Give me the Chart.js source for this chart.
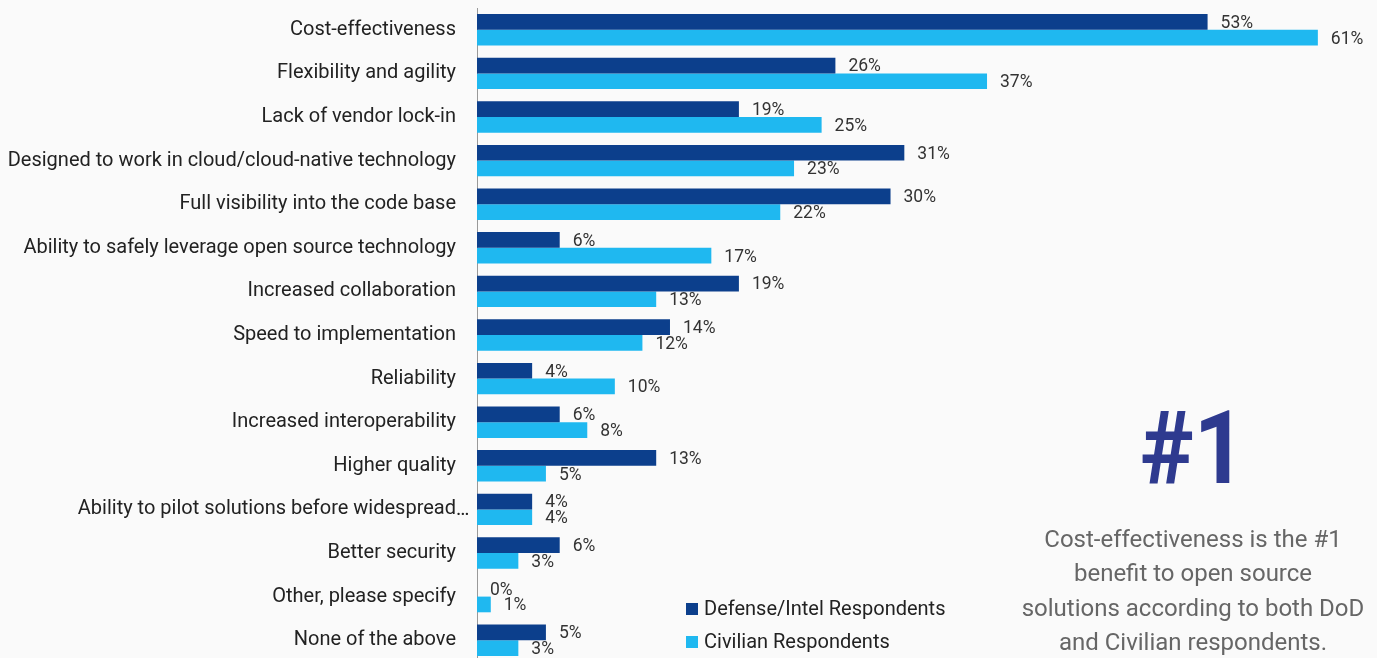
<!DOCTYPE html>
<html>
<head>
<meta charset="utf-8">
<script src="https://cdn.jsdelivr.net/npm/chart.js@4.4.1/dist/chart.umd.min.js"></script>
<style>
  html, body { margin: 0; padding: 0; background: #fafafa; overflow: hidden; }
  body { width: 1377px; height: 658px; position: relative; font-family: Roboto, sans-serif; }
  #chartBox { position: absolute; left: 0; top: 0; width: 1377px; height: 666px; }
  .legend { position: absolute; left: 686px; font-size: 20px; color: #222; line-height: 22px; }
  .legend span { display: inline-block; width: 12px; height: 12px; margin-right: 6px; vertical-align: 0px; }
  #bigNum { position: absolute; left: 1013px; width: 360px; top: 388px; text-align: center;
    font-size: 102px; font-weight: bold; color: #2e3a8f; line-height: 120px; transform: scaleX(0.89); }
  #note { position: absolute; left: 1003px; width: 380px; top: 522px; text-align: center;
    font-size: 24px; color: #666; line-height: 34.4px; }
</style>
</head>
<body>
<div id="chartBox"><canvas id="benefitChart"></canvas></div>
<div class="legend" style="top:597px"><span style="background:#0c3f8c"></span>Defense/Intel Respondents</div>
<div class="legend" style="top:630px"><span style="background:#1fb8f0"></span>Civilian Respondents</div>
<div id="bigNum">#1</div>
<div id="note">Cost-effectiveness is the #1<br>benefit to open source<br>solutions according to both DoD<br>and Civilian respondents.</div>
<script>
// ---------------- Data ----------------
// the truncated label keeps its "…" outside the label column, as in the source
const categories = [
  "Cost-effectiveness",
  "Flexibility and agility",
  "Lack of vendor lock-in",
  "Designed to work in cloud/cloud-native technology",
  "Full visibility into the code base",
  "Ability to safely leverage open source technology",
  "Increased collaboration",
  "Speed to implementation",
  "Reliability",
  "Increased interoperability",
  "Higher quality",
  "Ability to pilot solutions before widespread",
  "Better security",
  "Other, please specify",
  "None of the above",
];
const truncatedIndex = 11;
const defenseValues = [53, 26, 19, 31, 30, 6, 19, 14, 4, 6, 13, 4, 6, 0, 5];
const civilianValues = [61, 37, 25, 23, 22, 17, 13, 12, 10, 8, 5, 4, 3, 1, 3];

// ---------------- Value labels plugin ----------------
const valueLabels = {
  id: "valueLabels",
  afterDatasetsDraw(chart) {
    const ctx = chart.ctx;
    ctx.save();
    ctx.font = "17.5px Roboto";
    ctx.fillStyle = "#333";
    ctx.textAlign = "left";
    ctx.textBaseline = "middle";
    chart.data.datasets.forEach((ds, i) => {
      chart.getDatasetMeta(i).data.forEach((bar, j) => {
        ctx.fillText(ds.data[j] + "%", bar.x + 13, bar.y + 1.5);
      });
    });

    // ellipsis after the truncated category label
    const y = chart.scales.y;
    ctx.font = "20px Roboto";
    ctx.fillStyle = "#222";
    ctx.fillText("\u2026", y.right - 21, y.getPixelForValue(truncatedIndex) + 1);
    ctx.restore();
  },
};

// ---------------- Chart ----------------
const ctx = document.getElementById("benefitChart").getContext("2d");
new Chart(ctx, {
  type: "bar",
  data: {
    labels: categories,
    datasets: [
      {
        label: "Defense/Intel Respondents",
        data: defenseValues,
        backgroundColor: "#0c3f8c",
      },
      {
        label: "Civilian Respondents",
        data: civilianValues,
        backgroundColor: "#1fb8f0",
      },
    ],
  },
  options: {
    indexAxis: "y",
    responsive: true,
    maintainAspectRatio: false,
    animation: false,
    layout: { padding: { top: 8, bottom: 4, right: 4, left: 0 } },
    datasets: { bar: { categoryPercentage: 0.72, barPercentage: 1.0 } },
    plugins: {
      legend: { display: false },
      tooltip: { enabled: false },
    },
    scales: {
      x: {
        min: 0,
        max: 65,
        display: false,
      },
      y: {
        afterFit: (s) => {
          s.width = 477;
          s.paddingTop = 0;
          s.paddingBottom = 0;
        },
        grid: { display: false, drawTicks: false },
        border: { display: true, color: "#999", width: 1 },
        ticks: {
          padding: 21,
          color: "#222",
          font: { family: "Roboto", size: 20 },
        },
      },
    },
  },
  plugins: [valueLabels],
});
</script>
</body>
</html>
